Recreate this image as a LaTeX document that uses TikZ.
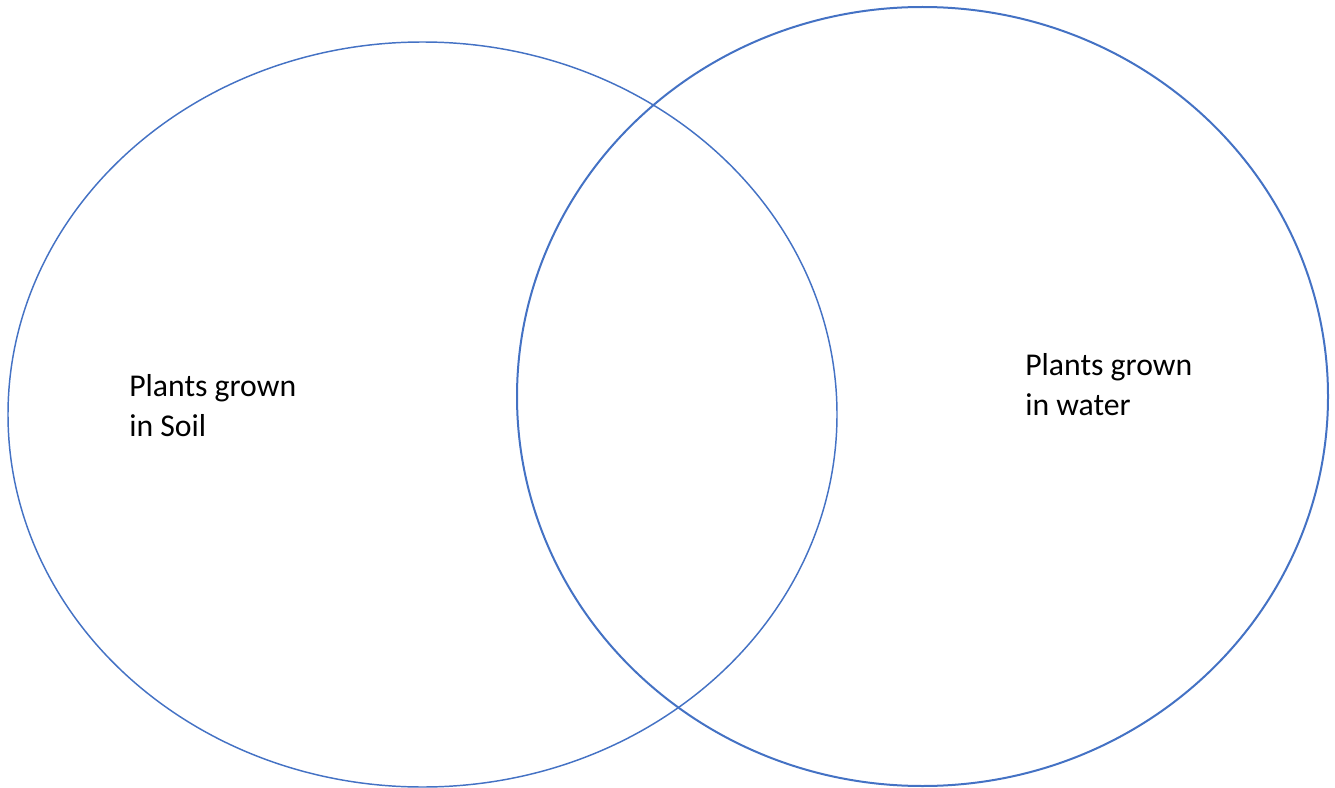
\documentclass[tikz,border=0pt]{standalone}
\usepackage{fontspec}
\setmainfont{Carlito}
\usepackage{xcolor}
\definecolor{vennblue}{HTML}{4472C4}

\begin{document}
\begin{tikzpicture}[x=0.75pt,y=-0.75pt,
  setline/.style={draw=vennblue,line width=1.1pt},
  setlabel/.style={anchor=base west,inner sep=0pt,align=left,
    font=\fontsize{23.8}{29.3}\selectfont}]
		\useasboundingbox (0,0) rectangle (1335,788);

		% Draw the two sets as ellipses
		\draw[setline] (422.5,414.5) ellipse (414.5 and 372.5);
		\draw[setline,line width=1.5pt] (922.5,396.5) ellipse (405.5 and 389.5);

		% Labels of the sets (base = last line)
		\node[setlabel] (soil) at (129,436) {Plants grown\\in Soil};
		\node[setlabel] (water) at (1025,415) {Plants grown\\in water};
	\end{tikzpicture}
\end{document}
